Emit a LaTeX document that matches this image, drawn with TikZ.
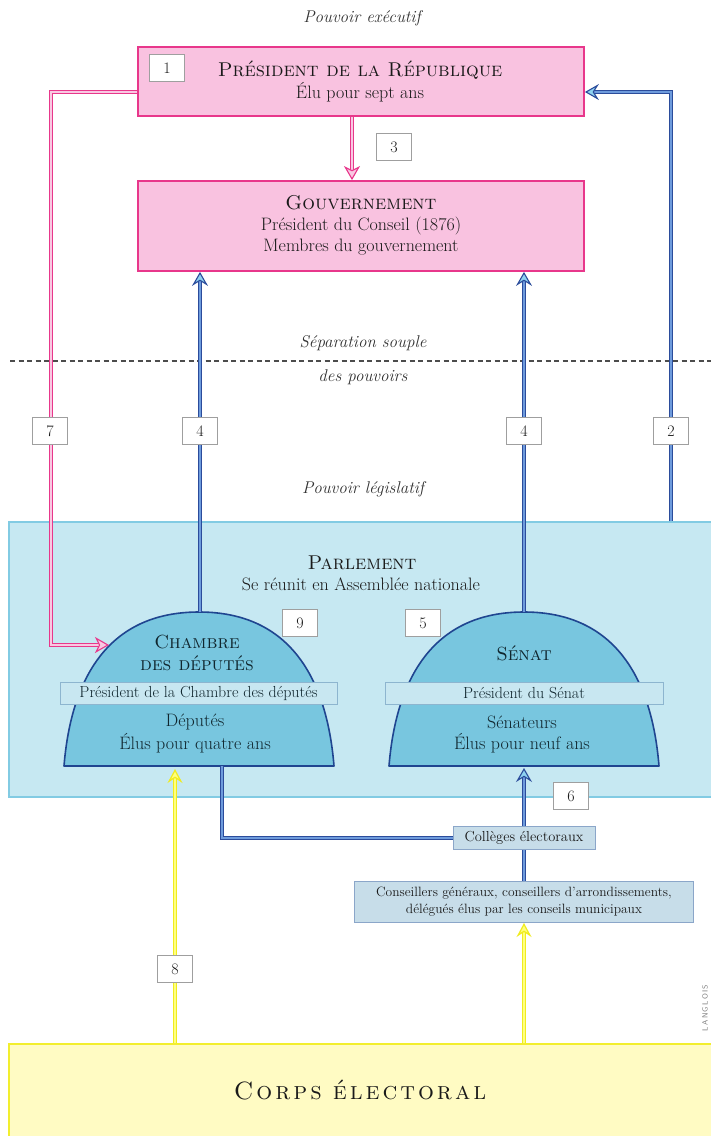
\documentclass[tikz,border=0pt]{standalone}
\usepackage{fontspec}
\usetikzlibrary{arrows.meta,calc}
\definecolor{pinkfill}{HTML}{F9C2E0}
\definecolor{pinkdraw}{HTML}{E8378B}
\definecolor{pinkcore}{HTML}{F9C8E2}
\definecolor{bluedark}{HTML}{2B4C9B}
\definecolor{bluecore}{HTML}{6E9BDC}
\definecolor{bluetip}{HTML}{8ED2F0}
\definecolor{parlfill}{HTML}{C6E8F2}
\definecolor{parldraw}{HTML}{82CBE3}
\definecolor{domefill}{HTML}{78C6DF}
\definecolor{domedraw}{HTML}{1F4590}
\definecolor{barfill}{HTML}{C8E7F1}
\definecolor{bardraw}{HTML}{8DB5CF}
\definecolor{boxfill}{HTML}{C7DDE9}
\definecolor{boxdraw}{HTML}{8BA6C9}
\definecolor{corpsfill}{HTML}{FFFBC3}
\definecolor{corpsdraw}{HTML}{F2EE2E}
\definecolor{yel}{HTML}{F0EC1E}
\definecolor{yelcore}{HTML}{FFFF80}
\definecolor{txt}{HTML}{1A1A1A}
\definecolor{dometxt}{HTML}{10262E}
\newcommand\fsz[2]{\fontsize{#1}{#2}\selectfont}
\newcommand\lsp{\kern3pt}
\begin{document}
\begin{tikzpicture}[x=1pt,y=-1pt,
  pinkbox/.style={draw=pinkdraw, line width=1.8pt, fill=pinkfill, minimum width=446pt, inner sep=0pt},
  txtnode/.style={text=txt, inner sep=0pt, font=\fsz{18}{22}},
  headnode/.style={text=txt, inner sep=0pt, font=\fsz{20}{22}},
  itnode/.style={text=txt!90, inner sep=0pt, font=\fsz{17}{20}\itshape},
  dometext/.style={text=dometxt, inner sep=0pt, font=\fsz{18}{22}},
  domehead/.style={text=dometxt, inner sep=0pt, font=\fsz{19}{22}},
  dome/.style={draw=domedraw, fill=domefill, line width=1.6pt, line join=round},
  bar/.style={draw=bardraw, fill=barfill, line width=1pt, minimum height=22pt, inner sep=0pt, text=dometxt, font=\fsz{16}{18}},
  smallbox/.style={draw=boxdraw, fill=boxfill, line width=1pt, inner sep=0pt, text=txt, align=center},
  lbl/.style={draw=gray!75, fill=white, line width=0.9pt, minimum width=35pt, minimum height=27pt, inner sep=0pt, font=\fsz{16}{16}, text=txt},
  bluearrow/.style={draw=bluedark, line width=1.1pt, double=bluecore, double distance=2.2pt,
     -{Stealth[length=14pt, width=16pt, inset=5pt, fill=bluetip, line width=1.1pt]}},
  blueline/.style={draw=bluedark, line width=1.1pt, double=bluecore, double distance=2.2pt},
  pinkarrow/.style={draw=pinkdraw, line width=1.1pt, double=pinkcore, double distance=2.2pt,
     -{Stealth[length=14pt, width=16pt, inset=4pt, fill=pinkcore, line width=1.1pt]}},
  yelarrow/.style={draw=yel, line width=1.2pt, double=yelcore, double distance=1.8pt,
     -{Stealth[length=14pt, width=15pt, inset=5pt, fill=yelcore, line width=1.2pt]}}
]
\useasboundingbox (0,0) rectangle (711,1136);
\fill[white] (0,0) rectangle (711,1136);

% top labels
\node[itnode] (pexe) at (362,18) {Pouvoir exécutif};
\node[itnode] (sep1) at (363,343) {Séparation souple};
\node[itnode] (sep2) at (363,377) {des pouvoirs};
\node[itnode] (pleg) at (363,489) {Pouvoir législatif};
\draw[gray!60!black, line width=1.3pt, dash pattern=on 5pt off 3.5pt] (10,361) -- (711,361);

% executive boxes
\node[pinkbox, minimum height=69pt] (pres) at (361,81.5) {};
\node[headnode] (prest) at (360,70) {\textsc{Président de la République}};
\node[txtnode] (press) at (360,92) {Élu pour sept ans};
\node[pinkbox, minimum height=90pt] (gouv) at (361,226) {};
\node[headnode] (gouvt) at (361,203) {\textsc{Gouvernement}};
\node[txtnode] (gouv1) at (361,226) {Président du Conseil (1876)};
\node[txtnode] (gouv2) at (361,247) {Membres du gouvernement};

% parliament
\node[draw=parldraw, fill=parlfill, line width=1.5pt, minimum width=704pt, minimum height=275pt, inner sep=0pt] (parl) at (361,659.5) {};
\node[headnode] (parlt) at (362,563) {\textsc{Parlement}};
\node[txtnode] (parls) at (361,584) {Se réunit en Assemblée nationale};

% domes
\begin{scope}[shift={(199,0)}]
\path[dome] (-135,766) .. controls (-128,680) and (-92,612) .. (0,612)
  .. controls (92,612) and (128,680) .. (135,766) -- cycle;
\end{scope}
\begin{scope}[shift={(524,0)}]
\path[dome] (-135,766) .. controls (-128,680) and (-92,612) .. (0,612)
  .. controls (92,612) and (128,680) .. (135,766) -- cycle;
\end{scope}
\coordinate (chtop) at (200,612);
\coordinate (setop) at (524,612);
\coordinate (chb) at (222,766);
\coordinate (chy) at (175,769);
\coordinate (sebase) at (524,768);
\coordinate (chl) at (109,645);
\coordinate (k7) at (51,400);

\node[bar, minimum width=277pt] (chbar) at (198.5,693) {Président de la Chambre des députés};
\node[bar, minimum width=278pt] (sebar) at (524,693) {Président du Sénat};
\node[domehead] (cht1) at (197,642) {\textsc{Chambre}};
\node[domehead] (cht2) at (197,663) {\textsc{des députés}};
\node[dometext] (ch1) at (195,722) {Députés};
\node[dometext] (ch2) at (195,743) {Élus pour quatre ans};
\node[domehead] (set1) at (524,653) {\textsc{Sénat}};
\node[dometext] (se1) at (522,722) {Sénateurs};
\node[dometext] (se2) at (522,743) {Élus pour neuf ans};

% lower boxes
\node[smallbox, minimum width=142pt, minimum height=23pt, font=\fsz{14.5}{16}] (coll) at (524,838) {Collèges électoraux};
\node[smallbox, minimum width=339pt, minimum height=41pt, font=\fsz{13.5}{17}] (cons) at (524,902) {Conseillers généraux, conseillers d'arrondissements,\\délégués élus par les conseils municipaux};
\node[draw=corpsdraw, fill=corpsfill, line width=1.5pt, minimum width=704pt, minimum height=96pt, inner sep=0pt] (corps) at (361,1092) {};
\node[text=txt, inner sep=0pt, font=\fsz{25}{28}] (corpst) at (360,1090) {\textsc{C\lsp o\lsp r\lsp p\lsp s\kern11pt é\lsp l\lsp e\lsp c\lsp t\lsp o\lsp r\lsp a\lsp l}};
\node[rotate=90, text=gray, inner sep=0pt, font=\sffamily\fsz{7.5}{8}] (sig) at (705,1008) {L\,A\,N\,G\,L\,O\,I\,S};

% connectors
\draw[pinkarrow] ([xshift=-9pt]pres.south) -- ([xshift=-9pt]gouv.north);
\draw[bluearrow] (chtop) -- (chtop |- gouv.south);
\draw[bluearrow] (setop) -- (setop |- gouv.south);
\draw[bluearrow] ([xshift=310pt]parl.north) |- ([yshift=-10.5pt]pres.east);
\draw[pinkarrow] ([yshift=-10.5pt]pres.west) -| (k7) |- (chl);
\draw[blueline] (chb) |- (coll.west);
\draw[bluearrow] (coll.north) -- (sebase);
\draw[blueline] (cons.north) -- (coll.south);
\draw[yelarrow] (corps.north -| chy) -- (chy);
\draw[yelarrow] (corps.north -| cons.south) -- (cons.south);

% number labels
\node[lbl] (l1) at (167,68) {1};
\node[lbl] (l3) at (394,147) {3};
\node[lbl] (l7) at (50,431) {7};
\node[lbl] (l4a) at (200,431) {4};
\node[lbl] (l4b) at (524,431) {4};
\node[lbl] (l2) at (671,431) {2};
\node[lbl] (l9) at (300,623) {9};
\node[lbl] (l5) at (423,623) {5};
\node[lbl] (l6) at (571,796) {6};
\node[lbl] (l8) at (175,969) {8};
\end{tikzpicture}
\end{document}
